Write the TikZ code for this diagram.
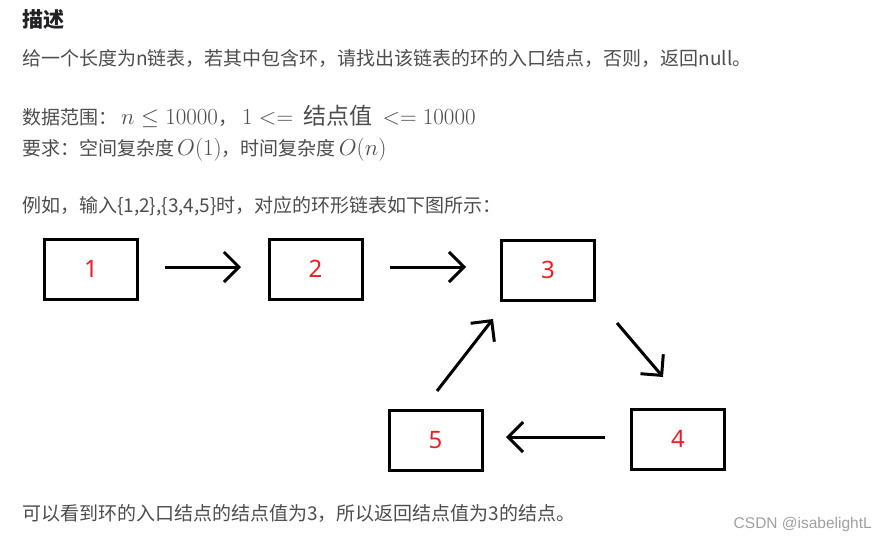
\RequirePackage{fix-cm}
\documentclass[tikz,border=0pt]{standalone}
\usepackage{amsmath}
\usepackage[no-math]{fontspec}
\setmainfont{Noto Sans CJK SC}
\newfontfamily\numfont{Noto Sans}
\newfontfamily\wmfont{Liberation Sans}
\usetikzlibrary{arrows.meta,positioning}
\definecolor{txt}{HTML}{4D4D4D}
\definecolor{head}{HTML}{222226}
\definecolor{numred}{HTML}{EE1C25}
\definecolor{wm}{HTML}{A0A0A0}
\newcommand{\bigmath}[1]{{\fontsize{23}{25}\selectfont$#1$}}
\tikzset{
  listbox/.style={draw=black,line width=3pt,minimum width=93pt,minimum height=60pt,inner sep=0pt,
    font=\numfont\fontsize{24}{26}\selectfont,text=numred},
  linkarrow/.style={line width=3pt,-{Straight Barb[length=15pt,width=30pt,line width=3pt]}},
  bodytext/.style={anchor=base west,inner sep=0pt,text=txt,font=\fontsize{19}{21}\selectfont},
}
\begin{document}
\begin{tikzpicture}[x=1pt,y=-1pt]
\useasboundingbox (0,0) rectangle (887,541);
% texts
\node[anchor=base west,inner sep=0pt,text=head,font=\bfseries\fontsize{21}{23}\selectfont] (title) at (22,27) {描述};
\node[bodytext] (l1) at (22,65) {给一个长度为n链表，若其中包含环，请找出该链表的环的入口结点，否则，返回null。};
\node[bodytext] (l3) at (22,124) {数据范围：\hspace{4pt}\bigmath{n \le 10000}，\hspace{5pt}\bigmath{1 <= \text{\,结点值\,} <= 10000}};
\node[bodytext] (l4) at (22,155) {要求：空间复杂度\hspace{3pt}\bigmath{O(1)}，时间复杂度\hspace{3pt}\bigmath{O(n)}};
\node[bodytext] (l5) at (22,212) {例如，输入\{1,2\},\{3,4,5\}时，对应的环形链表如下图所示：};
\node[bodytext] (l6) at (22,520) {可以看到环的入口结点的结点值为3，所以返回结点值为3的结点。};
\node[anchor=base east,inner sep=0pt,text=wm,font=\wmfont\fontsize{15.5}{17}\selectfont] (wmk) at (872,528) {CSDN @isabelightL};
% boxes
\node[listbox] (b1) at (91,269) {1};
\node[listbox] (b2) at (315.5,269) {2};
\node[listbox] (b3) at (548,270) {3};
\node[listbox] (b4) at (678,439) {4};
\node[listbox] (b5) at (435.5,440) {5};
% arrow end points
\coordinate (s12) at (165,267);
\coordinate (e12) at (241,267);
\coordinate (s23) at (390,267);
\coordinate (e23) at (466,267);
\coordinate (s34) at (617,323);
\coordinate (e34) at (663,377);
\coordinate (s45) at (605,437);
\coordinate (e45) at (506,437);
\coordinate (s53) at (437,391);
\coordinate (e53) at (493,319);
\draw[linkarrow] (s12) -- (e12);
\draw[linkarrow] (s23) -- (e23);
\draw[linkarrow] (s34) -- (e34);
\draw[linkarrow] (s45) -- (e45);
\draw[linkarrow] (s53) -- (e53);
\end{tikzpicture}
\end{document}
